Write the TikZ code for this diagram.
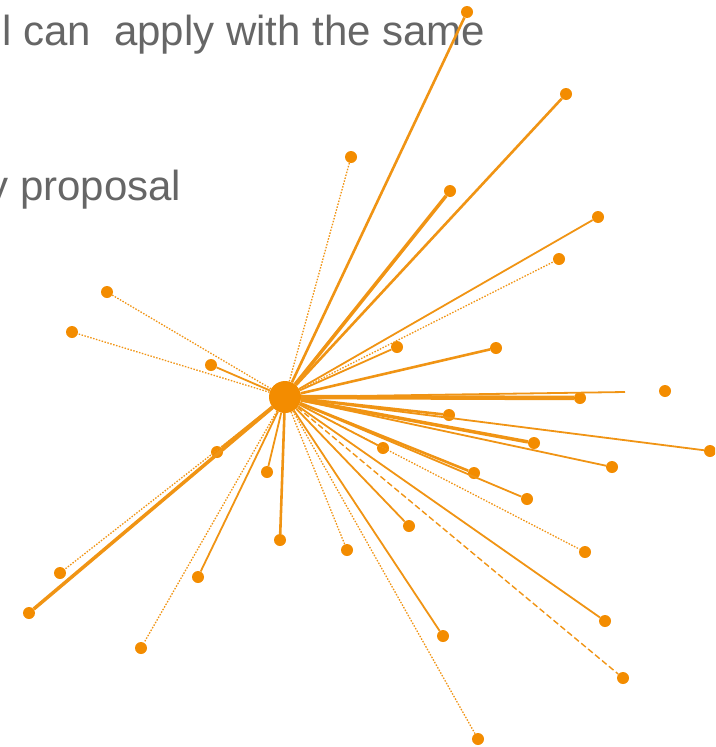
\documentclass[tikz,border=0pt]{standalone}
\usepackage{fontspec}
\setmainfont{Liberation Sans}
\definecolor{hub}{RGB}{243,140,0}
\definecolor{edgeo}{RGB}{240,148,20}
\definecolor{txtgray}{RGB}{102,102,102}
\tikzset{
  leaf/.style={circle,fill=hub,draw=none,inner sep=0pt,minimum size=12pt},
  center/.style={circle,fill=hub,draw=none,inner sep=0pt,minimum size=32pt},
  heavy/.style={draw=edgeo,line width=3.5pt},
  strong/.style={draw=edgeo,line width=2.6pt},
  plain/.style={draw=edgeo,line width=1.8pt},
  faint/.style={draw=edgeo,line width=1.3pt,dash pattern=on 1.5pt off 1.5pt},
  dashy/.style={draw=edgeo,line width=1.4pt,dash pattern=on 6pt off 3pt},
  caption/.style={anchor=base west,inner sep=0pt,text=txtgray,font=\fontsize{42}{50}\selectfont}
}
\begin{document}
\begin{tikzpicture}[x=1pt,y=-1pt]
\useasboundingbox (0,0) rectangle (715,747);
\clip (0,0) rectangle (715,747);
\node[caption] (t1) at (2,45) {l can\ \ apply with the same};
\node[caption] (t2) at (-12.7,200) {y proposal};
\node[center] (c) at (285,397) {};
\node[leaf] (n1) at (467,12) {};
\node[leaf] (n2) at (566,94) {};
\node[leaf] (n3) at (351,157) {};
\node[leaf] (n4) at (450,191) {};
\node[leaf] (n5) at (598,217) {};
\node[leaf] (n6) at (559,259) {};
\node[leaf] (n7) at (107,292) {};
\node[leaf] (n8) at (72,332) {};
\node[leaf] (n9) at (211,365) {};
\node[leaf] (n10) at (397,347) {};
\node[leaf] (n11) at (496,348) {};
\node[leaf] (n12) at (580,398) {};
\coordinate (e12) at (625,392);
\node[leaf] (n13) at (665,391) {};
\node[leaf] (n14) at (449,415) {};
\node[leaf] (n15) at (710,451) {};
\node[leaf] (n16) at (534,443) {};
\node[leaf] (n17) at (612,467) {};
\node[leaf] (n18) at (383,448) {};
\node[leaf] (n19) at (474,473) {};
\node[leaf] (n20) at (527,499) {};
\node[leaf] (n21) at (585,552) {};
\node[leaf] (n22) at (409,526) {};
\node[leaf] (n23) at (347,550) {};
\node[leaf] (n24) at (443,636) {};
\node[leaf] (n25) at (605,621) {};
\node[leaf] (n26) at (623,678) {};
\node[leaf] (n27) at (478,739) {};
\node[leaf] (n28) at (280,540) {};
\node[leaf] (n29) at (267,472) {};
\node[leaf] (n30) at (198,577) {};
\node[leaf] (n31) at (141,648) {};
\node[leaf] (n32) at (60,573) {};
\node[leaf] (n33) at (29,613) {};
\node[leaf] (n34) at (217,452) {};
\begin{scope}[on background layer/.style={}]
\draw[strong] (c) -- (n1);
\draw[strong] (c) -- (n2);
\draw[faint] (c) -- (n3);
\draw[heavy] (c) -- (n4);
\draw[plain] (c) -- (n5);
\draw[faint] (c) -- (n6);
\draw[faint] (c) -- (n7);
\draw[faint] (c) -- (n8);
\draw[plain] (c) -- (n9);
\draw[plain] (c) -- (n10);
\draw[strong] (c) -- (n11);
\draw[draw=edgeo,line width=4.5pt] (c) -- (n12);
\draw[plain] (c) -- (e12);
\draw[strong] (c) -- (n14);
\draw[plain] (c) -- (n15);
\draw[heavy] (c) -- (n16);
\draw[plain] (c) -- (n17);
\draw[plain] (c) -- (n18);
\draw[strong] (c) -- (n19);
\draw[plain] (c) -- (n20);
\draw[faint] (c) -- (n21);
\draw[plain] (c) -- (n22);
\draw[faint] (c) -- (n23);
\draw[plain] (c) -- (n24);
\draw[plain] (c) -- (n25);
\draw[dashy] (c) -- (n26);
\draw[faint] (c) -- (n27);
\draw[strong] (c) -- (n28);
\draw[plain] (c) -- (n29);
\draw[plain] (c) -- (n30);
\draw[faint] (c) -- (n31);
\draw[faint] (c) -- (n32);
\draw[heavy] (c) -- (n33);
\draw[heavy] (c) -- (n34);
\end{scope}
\end{tikzpicture}
\end{document}
